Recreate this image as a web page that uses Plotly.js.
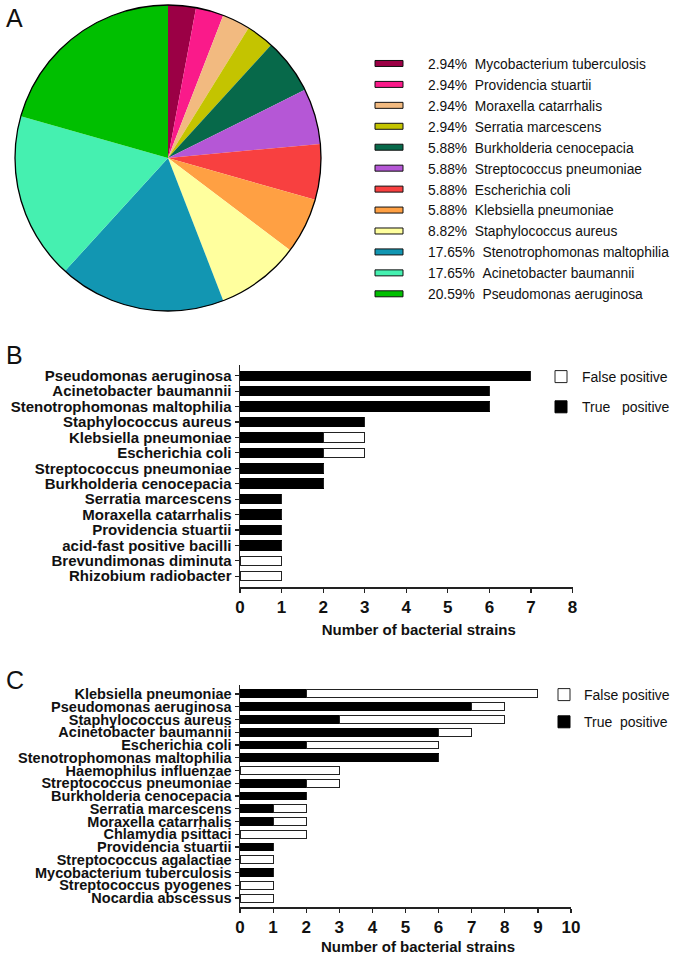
<!DOCTYPE html>
<html>
<head>
<meta charset="utf-8">
<script src="https://cdn.plot.ly/plotly-3.0.1.min.js"></script>
<style>
html,body{margin:0;padding:0;background:#fff;width:675px;height:955px;overflow:hidden;}
#chart{width:675px;height:955px;overflow:hidden;}
</style>
</head>
<body>
<div id="chart"></div>
<script>
// ---------- Panel A data ----------
const pieNames = [
  'Mycobacterium tuberculosis', 'Providencia stuartii', 'Moraxella catarrhalis',
  'Serratia marcescens', 'Burkholderia cenocepacia', 'Streptococcus pneumoniae',
  'Escherichia coli', 'Klebsiella pneumoniae', 'Staphylococcus aureus',
  'Stenotrophomonas maltophilia', 'Acinetobacter baumannii', 'Pseudomonas aeruginosa'
];
const pieCounts = [1, 1, 1, 1, 2, 2, 2, 2, 3, 6, 6, 7];
const pieColors = [
  '#9B0045', '#FA1A8A', '#F2BA80', '#C4C400', '#07694A', '#B557D6',
  '#F84040', '#FFA043', '#FFFF9E', '#1296B2', '#45F0B0', '#00BF00'
];

// ---------- Panel B data ----------
const bCategories = [
  'Pseudomonas aeruginosa', 'Acinetobacter baumannii', 'Stenotrophomonas maltophilia',
  'Staphylococcus aureus', 'Klebsiella pneumoniae', 'Escherichia coli',
  'Streptococcus pneumoniae', 'Burkholderia cenocepacia', 'Serratia marcescens',
  'Moraxella catarrhalis', 'Providencia stuartii', 'acid-fast positive bacilli',
  'Brevundimonas diminuta', 'Rhizobium radiobacter'
];
const bTrue  = [7, 6, 6, 3, 2, 2, 2, 2, 1, 1, 1, 1, 0, 0];
const bFalse = [0, 0, 0, 0, 1, 1, 0, 0, 0, 0, 0, 0, 1, 1];

// ---------- Panel C data ----------
const cCategories = [
  'Klebsiella pneumoniae', 'Pseudomonas aeruginosa', 'Staphylococcus aureus',
  'Acinetobacter baumannii', 'Escherichia coli', 'Stenotrophomonas maltophilia',
  'Haemophilus influenzae', 'Streptococcus pneumoniae', 'Burkholderia cenocepacia',
  'Serratia marcescens', 'Moraxella catarrhalis', 'Chlamydia psittaci',
  'Providencia stuartii', 'Streptococcus agalactiae', 'Mycobacterium tuberculosis',
  'Streptococcus pyogenes', 'Nocardia abscessus'
];
const cTrue  = [2, 7, 3, 6, 2, 6, 0, 2, 2, 1, 1, 0, 1, 0, 1, 0, 0];
const cFalse = [7, 1, 5, 1, 4, 0, 3, 1, 0, 1, 1, 2, 0, 1, 0, 1, 1];

const xTitle = 'Number of bacterial strains';
const legendNamesB = ['True\u00a0\u00a0\u00a0positive', 'False positive'];
const legendNamesC = ['True\u00a0\u00a0positive', 'False positive'];

// ---------- build ----------
const W = 675, H = 955;
const px = v => v / W;
const py = v => 1 - v / H;

const total = pieCounts.reduce((a, b) => a + b, 0);
const pieLabels = pieCounts.map((v, i) =>
  (v / total * 100).toFixed(2) + '%\u00a0\u00a0' + pieNames[i]);

const pieDomain = {x: [px(15), px(321)], y: [py(311), py(5)]};

const SANS = 'Liberation Sans, Arial, sans-serif';
const boldFont = {family: SANS, weight: 'bold', color: '#111'};

const traces = [
  {
    type: 'pie', labels: pieLabels, values: pieCounts, sort: false,
    direction: 'clockwise', rotation: 0, textinfo: 'none',
    marker: {colors: pieColors, line: {width: 0}},
    domain: pieDomain, legend: 'legend', hoverinfo: 'label+value'
  },
  {
    type: 'pie', labels: ['outline'], values: [1], sort: false, textinfo: 'none',
    marker: {colors: ['rgba(0,0,0,0)'], line: {color: '#000', width: 1.3}},
    domain: pieDomain, showlegend: false, hoverinfo: 'skip'
  },
  {
    type: 'bar', orientation: 'h', y: bCategories, x: bTrue, name: legendNamesB[0],
    xaxis: 'x', yaxis: 'y', legend: 'legend2', legendgroup: 'bt', legendrank: 2,
    marker: {color: '#000', line: {color: '#000', width: 1}}
  },
  {
    type: 'bar', orientation: 'h', y: bCategories, x: bFalse, name: legendNamesB[1],
    xaxis: 'x', yaxis: 'y', legend: 'legend2', legendgroup: 'bf', legendrank: 1,
    marker: {color: '#fff', line: {color: '#222', width: 1}}
  },
  {
    type: 'bar', orientation: 'h', y: cCategories, x: cTrue, name: legendNamesC[0],
    xaxis: 'x2', yaxis: 'y2', legend: 'legend3', legendgroup: 'ct', legendrank: 2,
    marker: {color: '#000', line: {color: '#000', width: 1}}
  },
  {
    type: 'bar', orientation: 'h', y: cCategories, x: cFalse, name: legendNamesC[1],
    xaxis: 'x2', yaxis: 'y2', legend: 'legend3', legendgroup: 'cf', legendrank: 1,
    marker: {color: '#fff', line: {color: '#222', width: 1}}
  }
];

function xAxis(domain, range, anchor) {
  return {
    domain: domain, range: range, tickmode: 'linear', tick0: 0, dtick: 1, anchor: anchor,
    showline: true, linecolor: '#222', linewidth: 1.5,
    ticks: 'outside', ticklen: 4, tickwidth: 1.2, tickcolor: '#222',
    showgrid: false, zeroline: false, automargin: false,
    tickfont: Object.assign({size: 17}, boldFont),
    title: {text: '<span>\u00a0\u00a0\u00a0\u00a0\u00a0\u00a0</span>' + xTitle, font: {family: SANS, weight: 'bold', size: 15, color: '#111'}, standoff: 8}
  };
}
function yAxis(domain, n, anchor, size) {
  return {
    domain: domain, type: 'category', range: [n - 1 + 0.7, -0.7], anchor: anchor,
    tickmode: 'linear', tick0: 0, dtick: 1,
    showline: true, linecolor: '#222', linewidth: 1.5,
    ticks: 'outside', ticklen: 4, tickwidth: 1.2, tickcolor: '#222',
    showgrid: false, zeroline: false, automargin: false,
    tickfont: Object.assign({size: size}, boldFont)
  };
}

const layout = {
  width: W, height: H,
  margin: {l: 0, r: 0, t: 0, b: 0, autoexpand: false},
  paper_bgcolor: '#fff', plot_bgcolor: 'rgba(0,0,0,0)',
  barmode: 'stack', bargap: 0.38,
  showlegend: true,
  font: {family: SANS, color: '#111'},
  xaxis: xAxis([px(240), px(572.5)], [0, 8], 'y'),
  yaxis: yAxis([py(587), py(365)], bCategories.length, 'x', 15),
  xaxis2: xAxis([px(240), px(571)], [0, 10], 'y2'),
  yaxis2: yAxis([py(907), py(685)], cCategories.length, 'x2', 14.5),
  legend: {
    x: 1, y: py(48), xanchor: 'right', yanchor: 'top', itemwidth: 50,
    font: {size: 13.8, family: SANS, color: '#111'},
    bgcolor: 'rgba(0,0,0,0)', traceorder: 'normal'
  },
  legend2: {
    x: 1, y: py(361), xanchor: 'right', yanchor: 'top', itemwidth: 32,
    font: {size: 14, family: SANS, color: '#111'},
    bgcolor: 'rgba(0,0,0,0)', traceorder: 'grouped', tracegroupgap: 9
  },
  legend3: {
    x: 1, y: py(679), xanchor: 'right', yanchor: 'top', itemwidth: 30,
    font: {size: 14, family: SANS, color: '#111'},
    bgcolor: 'rgba(0,0,0,0)', traceorder: 'grouped', tracegroupgap: 6
  },
  annotations: [
    {text: 'A', x: px(4), y: py(2), xref: 'paper', yref: 'paper', xanchor: 'left', yanchor: 'top', showarrow: false, font: {size: 25, family: SANS, color: '#111'}},
    {text: 'B', x: px(4), y: py(339), xref: 'paper', yref: 'paper', xanchor: 'left', yanchor: 'top', showarrow: false, font: {size: 25, family: SANS, color: '#111'}},
    {text: 'C', x: px(4), y: py(664), xref: 'paper', yref: 'paper', xanchor: 'left', yanchor: 'top', showarrow: false, font: {size: 25, family: SANS, color: '#111'}}
  ]
};

// legend swatch look: flat outlined bars placed left of each legend text
const pieSwatch = {w: 28, h: 6, gap: 25};
const barSwatch = {w: 23, h: 7, gap: 20};

function restyleSwatches(gd) {
  gd.querySelectorAll('text.legendtext').forEach(function (txt) {
    const item = txt.closest('g.traces') || txt.parentNode;
    if (!item) return;
    const textLeft = txt.getBoundingClientRect().left;
    item.querySelectorAll('path').forEach(function (p) {
      if (p.dataset.swatch !== '1') {
        let bb;
        try { bb = p.getBBox(); } catch (e) { return; }
        if (!bb || bb.width <= 0 || bb.height <= 0) return;
        p.dataset.swatch = '1';
      }
      const isPie = p.classList.contains('legendpie');
      const s = isPie ? pieSwatch : barSwatch;
      const ctm = p.getScreenCTM();
      if (!ctm) return;
      const x2 = (textLeft - s.gap - ctm.e) / ctm.a;
      const x1 = x2 - s.w / ctm.a;
      const hh = s.h / 2 / ctm.d;
      p.setAttribute('d', 'M' + x1 + ',' + (-hh) + 'H' + x2 + 'V' + hh + 'H' + x1 + 'Z');
      p.style.stroke = '#111';
      p.style.strokeWidth = '1px';
    });
  });
}

Plotly.newPlot('chart', traces, layout, {staticPlot: true, displayModeBar: false}).then(function (gd) {
  restyleSwatches(gd);
  gd.on('plotly_afterplot', function () { restyleSwatches(gd); });
  setTimeout(function () { restyleSwatches(gd); }, 50);
  setTimeout(function () { restyleSwatches(gd); }, 300);
});
</script>
</body>
</html>
